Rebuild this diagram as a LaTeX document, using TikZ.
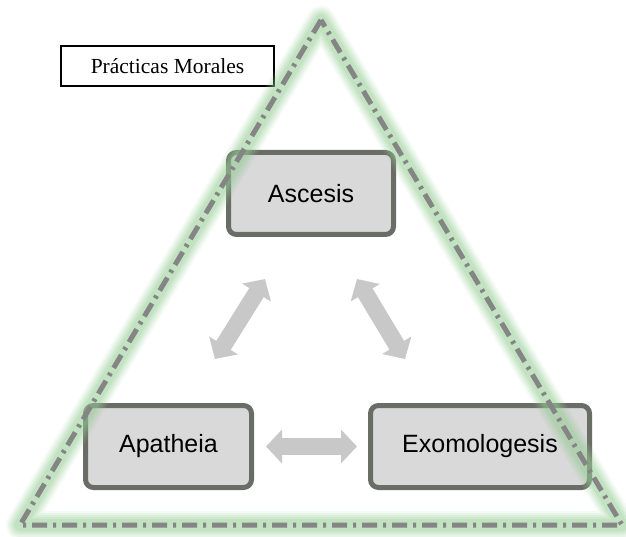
\documentclass[tikz,border=0pt]{standalone}
\usepackage{fontspec}
\setmainfont{Liberation Serif}
\newfontfamily\boxsans{Liberation Sans}
\usetikzlibrary{arrows.meta}
\definecolor{boxfill}{HTML}{D9D9D9}
\definecolor{boxline}{HTML}{6A6C66}
\definecolor{arrowgray}{HTML}{C8C8C8}
\definecolor{glowgreen}{RGB}{150,205,150}
\definecolor{dashgray}{HTML}{858585}
\tikzset{
  practice/.style={draw=boxline, fill=boxfill, line width=5pt, rounded corners=8pt,
    inner sep=0pt, minimum height=82pt, font=\boxsans\fontsize{25}{30}\selectfont},
  titlebox/.style={draw=black, line width=1.2pt, fill=white, minimum width=213pt,
    minimum height=40pt, inner sep=0pt, font=\fontsize{21.5}{26}\selectfont},
  linkarrow/.style={draw=arrowgray, line width=17pt,
    {Triangle[length=16pt,width=33pt]}-{Triangle[length=16pt,width=33pt]}},
  glow/.style={line join=round, line cap=round, draw=glowgreen},
  dashline/.style={draw=dashgray, line width=5pt,
    dash pattern=on 15pt off 6pt on 3pt off 6pt}
}
\begin{document}
\begin{tikzpicture}[x=1pt,y=-1pt]
\useasboundingbox (0,0) rectangle (626,537);
% boxes
\node[titlebox] (pm) at (167.5,66) {Prácticas Morales};
\node[practice, minimum width=165pt] (asc) at (311,193.5) {Ascesis};
\node[practice, minimum width=166pt] (apa) at (168.5,446.5) {Apatheia};
\node[practice, minimum width=219pt] (exo) at (480,446.5) {Exomologesis};
% arrow end points
\coordinate (la) at (215,359);
\coordinate (lb) at (265,279);
\coordinate (ra) at (357,279);
\coordinate (rb) at (405,359);
\coordinate (ha) at (266,446.5);
\coordinate (hb) at (357,446.5);
\draw[linkarrow] (la) -- (lb);
\draw[linkarrow] (ra) -- (rb);
\draw[linkarrow] (ha) -- (hb);
% triangle
\coordinate (top) at (321,20);
\coordinate (bl) at (20,525);
\coordinate (br) at (622,525);
\foreach \w/\o in {28/0.10, 24/0.13, 20/0.16, 16/0.19, 12/0.22} {
  \draw[glow, line width=\w pt, opacity=\o] (top) -- (bl) -- (br) -- cycle;
}
\draw[dashline] (top) -- (bl) -- (br) -- cycle;
\end{tikzpicture}
\end{document}
